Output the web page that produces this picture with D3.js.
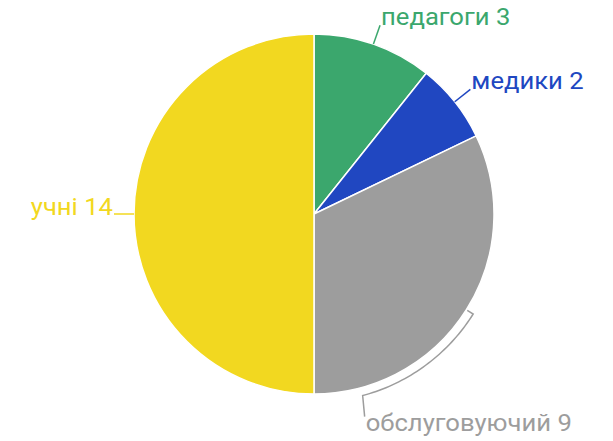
<!DOCTYPE html>
<html>
<head>
<meta charset="utf-8">
<script src="https://cdn.jsdelivr.net/npm/d3@7"></script>
<style>
  html, body { margin: 0; padding: 0; background: #fff; }
  svg { display: block; }
  text { font-family: Roboto, "Noto Sans", sans-serif; }
</style>
</head>
<body>
<svg id="chart" width="613" height="441"></svg>
<script>
// Staff groups and their counts
const categories = ["педагоги", "медики", "обслуговуючий", "учні"];
const values = [3, 2, 9, 14];
const colors = ["#3ba76d", "#2047c1", "#9d9d9d", "#f2d820"];

const width = 613, height = 441;
const cx = 314, cy = 214, radius = 180;

const svg = d3.select("#chart");
const g = svg.append("g").attr("transform", `translate(${cx},${cy})`);

const data = categories.map((c, i) => ({ name: c, value: values[i], color: colors[i] }));

const pie = d3.pie().value(d => d.value).sort(null);
const arcs = pie(data);
const arc = d3.arc().innerRadius(0).outerRadius(radius);

g.selectAll("path.slice")
  .data(arcs)
  .join("path")
  .attr("class", "slice")
  .attr("d", arc)
  .attr("fill", d => d.data.color)
  .attr("stroke", "#fff")
  .attr("stroke-width", 1.5);

// point at angle a (clockwise from 12 o'clock) and radius r
const pt = (a, r) => [r * Math.sin(a), -r * Math.cos(a)];
const mid = d => (d.startAngle + d.endAngle) / 2;
const fontSize = 23;
const stretch = 1.115;   // labels use a wide setting of the face

function addLabel(x, y, anchor, col, label) {
  g.append("text")
    .attr("transform", `translate(${x},${y}) scale(${stretch},1)`)
    .attr("text-anchor", anchor)
    .attr("fill", col).attr("font-size", fontSize)
    .text(label);
}

arcs.forEach(d => {
  const a = mid(d);
  const name = d.data.name;
  const label = `${name} ${d.data.value}`;
  const col = d.data.color;

  if (name === "обслуговуючий") {
    // bracket following the rim, then a drop to the label below
    const rb = 188;
    const endA = 165 * Math.PI / 180;
    const p0 = pt(a, 181);
    const arcPts = d3.range(0, 41).map(k => pt(a + (endA - a) * k / 40, rb));
    const p1 = arcPts[arcPts.length - 1];
    const p2 = [p1[0] + 2, p1[1] + 21];
    const path = d3.path();
    path.moveTo(p0[0], p0[1]);
    arcPts.forEach(p => path.lineTo(p[0], p[1]));
    path.lineTo(p2[0], p2[1]);
    g.append("path").attr("d", path.toString())
      .attr("fill", "none").attr("stroke", col).attr("stroke-width", 1.5);
    addLabel(p2[0] + 1, p2[1] + 14, "start", col, label);
  } else {
    const p0 = pt(a, radius);
    const p1 = pt(a, 200);
    g.append("line")
      .attr("x1", p0[0]).attr("y1", p0[1]).attr("x2", p1[0]).attr("y2", p1[1])
      .attr("stroke", col).attr("stroke-width", 1.5);
    const left = Math.sin(a) < 0;
    addLabel(p1[0] + (left ? -1 : 1), p1[1] + (left ? 1 : 0),
      left ? "end" : "start", col, label);
  }
});
</script>
</body>
</html>
